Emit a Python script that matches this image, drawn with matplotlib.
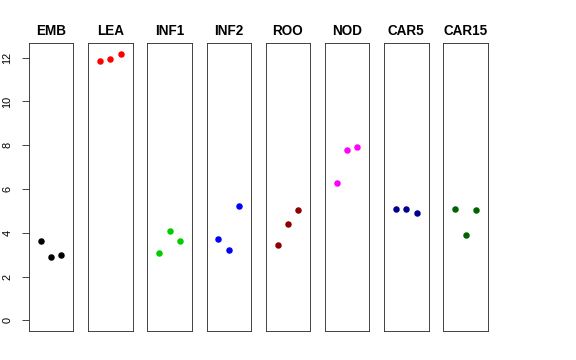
import matplotlib
matplotlib.use("Agg")
import matplotlib.pyplot as plt

plt.rcParams['font.family'] = ['Liberation Sans', 'DejaVu Sans']

tissues = ["EMB", "LEA", "INF1", "INF2", "ROO", "NOD", "CAR5", "CAR15"]
colors = ["#000000", "#FF0000", "#00CD00", "#0000FF", "#8B0000", "#FF00FF", "#00008B", "#006400"]
rep_x = [1, 2, 3]
emb = [3.62, 2.89, 3.00]
lea = [11.85, 11.96, 12.17]
inf1 = [3.06, 4.08, 3.62]
inf2 = [3.73, 3.21, 5.23]
roo = [3.44, 4.38, 5.02]
nod = [6.27, 7.79, 7.91]
car5 = [5.08, 5.10, 4.91]
car15 = [5.10, 3.89, 5.02]
values = [emb, lea, inf1, inf2, roo, nod, car5, car15]
yticks = [0, 2, 4, 6, 8, 10, 12]

W, H = 576, 360
fig = plt.figure(figsize=(W / 72, H / 72), dpi=72)

ymax = max(max(v) for v in values)
ylo, yhi = 0 - 0.04 * ymax, ymax * 1.04
xlo, xhi = 0 - 0.16, 4 + 0.16

left0, pw, step = 29.0, 44.3, 59.2
top_px, bot_px = 43.3, 331.0
for i, (name, col, vals) in enumerate(zip(tissues, colors, values)):
    ax = fig.add_axes([(left0 + i * step) / W, (H - bot_px) / H, pw / W, (bot_px - top_px) / H])
    ax.scatter(rep_x, vals, s=42, color=col, zorder=3, linewidths=0)
    ax.set_xlim(xlo, xhi)
    ax.set_ylim(ylo, yhi)
    ax.set_xticks([])
    for sp in ax.spines.values():
        sp.set_linewidth(0.9)
        sp.set_color("#333333")
    ax.set_title(name, fontsize=13.5, fontweight='bold', pad=8)
    if i == 0:
        ax.set_yticks(yticks)
        ax.set_yticklabels([str(t) for t in yticks], rotation=90, va='center', fontsize=11)
        ax.tick_params(axis='y', length=7.5, width=0.9, pad=9, colors="#333333", labelcolor="black")
    else:
        ax.set_yticks([])

fig.savefig("out.png", dpi=72)
